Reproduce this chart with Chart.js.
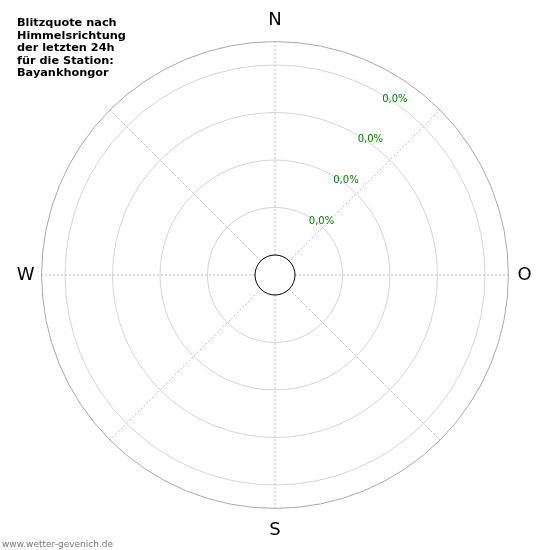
<!DOCTYPE html>
<html>
<head>
<meta charset="utf-8">
<script src="https://cdn.jsdelivr.net/npm/chart.js@4"></script>
<style>
html,body{margin:0;padding:0;background:#fff;}
#wrap{width:550px;height:550px;}
</style>
</head>
<body>
<div id="wrap"><canvas id="c" width="550" height="550"></canvas></div>
<script>
// ---- data ----
const directions = ['N', 'NO', 'O', 'SO', 'S', 'SW', 'W', 'NW'];
const shownDirections = ['N', 'O', 'S', 'W'];
const quoteValues = [0, 0, 0, 0, 0, 0, 0, 0];          // Blitzquote in % per direction
const ringValues = [1, 2, 3, 4];                        // ring steps
const ringLabels = ['0,0%', '0,0%', '0,0%', '0,0%'];    // tick labels
const titleLines = ['Blitzquote nach', 'Himmelsrichtung', 'der letzten 24h', 'für die Station:', 'Bayankhongor'];
const footerText = 'www.wetter-gevenich.de';

// scale geometry (in ring units)
const HOLE = 20 / 47.5;
const R_MIN = -HOLE;
const R_MAX = (233.4 - 20) / 47.5;
const LABEL_PAD = { N: 10, O: 9, S: 11, W: 7 };

const textPlugin = {
  id: 'texts',
  afterDraw(chart) {
    const ctx = chart.ctx;
    const s = chart.scales.r;
    ctx.save();
    ctx.font = '10px "DejaVu Sans"';
    ctx.fillStyle = '#008000';
    ctx.textAlign = 'left';
    ctx.textBaseline = 'middle';
    const a = 31 * Math.PI / 180;
    ringValues.forEach((v, i) => {
      const d = s.getDistanceFromCenterForValue(v);
      ctx.fillText(ringLabels[i], s.xCenter + d * Math.sin(a) - 1, s.yCenter - d * Math.cos(a) + 4);
    });
    ctx.font = 'bold 11.3px "DejaVu Sans"';
    ctx.fillStyle = '#000';
    ctx.textBaseline = 'alphabetic';
    titleLines.forEach((t, i) => ctx.fillText(t, 17, 26 + i * 12.5));
    ctx.font = '9px "DejaVu Sans"';
    ctx.fillStyle = '#777';
    ctx.fillText(footerText, 2, 547);
    ctx.restore();
  }
};

new Chart(document.getElementById('c'), {
  type: 'radar',
  data: {
    labels: directions,
    datasets: [{
      data: quoteValues,
      borderColor: '#000',
      borderWidth: 1,
      backgroundColor: '#fff',
      fill: 'start',
      pointRadius: 0,
      tension: 0.375
    }]
  },
  options: {
    responsive: false,
    animation: false,
    devicePixelRatio: 1,
    layout: { padding: { top: 10, bottom: 8, left: 9, right: 9 } },
    plugins: { legend: { display: false }, tooltip: { enabled: false } },
    scales: {
      r: {
        min: R_MIN,
        max: R_MAX,
        afterBuildTicks: (sc) => {
          sc.ticks = [R_MIN, 0].concat(ringValues, [R_MAX]).map(v => ({ value: v }));
        },
        ticks: { display: false },
        grid: {
          circular: true,
          lineWidth: 1,
          color: (ctx) => {
            const v = ctx.tick ? ctx.tick.value : null;
            if (v === R_MAX) return '#a8a8a8';
            if (v === R_MIN || v === 0) return 'rgba(0,0,0,0)';
            return '#d4d4d4';
          }
        },
        angleLines: {
          display: true,
          color: '#bdbdbd',
          lineWidth: 1,
          borderDash: [2, 2]
        },
        pointLabels: {
          display: true,
          padding: (ctx) => LABEL_PAD[ctx.label] !== undefined ? LABEL_PAD[ctx.label] : 10,
          color: '#000',
          font: { family: 'DejaVu Sans', size: 18 },
          callback: (label) => shownDirections.includes(label) ? label : ''
        }
      }
    }
  },
  plugins: [textPlugin]
});
</script>
</body>
</html>
